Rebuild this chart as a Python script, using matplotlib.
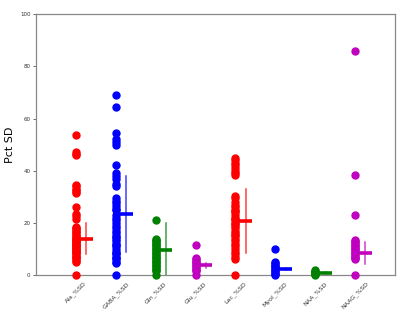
import matplotlib
matplotlib.use("Agg")
import matplotlib.pyplot as plt

categories = ["Ala_%SD", "GABA_%SD", "Gln_%SD", "Glu_%SD", "Lac_%SD", "MyoI_%SD", "NAA_%SD", "NAAG_%SD"]
colors = ["r", "b", "g", "m", "r", "b", "g", "m"]

ala = [53.5, 47, 46.5, 46, 34.5, 34, 33, 32.5, 32, 31.5, 26, 23.5, 22.5, 21.5, 18.5, 18, 17.5, 17,
       16.5, 16, 15.5, 15, 14.5, 14, 14, 13.5, 13, 13, 12.5, 12, 12, 11.5, 11, 11, 10.5, 10, 10, 9.5,
       9, 9, 8.5, 8, 7.5, 7, 6.5, 6, 5.5, 5, 0]
gaba = [69, 64.5, 54.5, 52, 51, 50, 42, 39, 38, 37, 35, 34, 29.5, 28.5, 27.5, 26.5, 25.5, 25, 23, 22,
        21, 20, 19, 18, 17, 16, 15, 14.5, 14, 13, 12, 11.5, 11, 10, 9, 8.5, 8, 7, 6.5, 6, 5, 4.5, 0]
gln = [21, 14, 13.5, 13, 12.5, 12, 11.5, 11, 10.5, 10, 9.5, 9, 8.5, 8, 7.5, 7, 6.5, 6, 5.5, 5, 4.5, 4,
       3.5, 3, 2.5, 2, 1.5, 0]
glu = [11.5, 6.5, 6, 5.5, 5, 4.5, 4, 3.5, 3, 2.5, 2, 1.5, 0]
lac = [45, 44, 43, 42, 41, 40, 39, 38.5, 30.5, 29.5, 28, 27, 26, 25, 24.5, 24, 23, 22, 21.5, 21, 20,
       19.5, 19, 18, 17, 16, 15.5, 15, 14, 13, 12, 11, 10, 9, 8, 7, 6, 0]
myoi = [10.2, 5, 4.5, 4, 3.5, 3, 2.5, 2, 1.5, 1, 0.5, 0]
naa = [2, 1.5, 1.2, 1, 0.8, 0.5, 0.3, 0]
naag = [86, 38.5, 23, 13.5, 13, 12.5, 12, 11.5, 11, 10.5, 10, 9.5, 9, 8.5, 8, 7.5, 7, 6.5, 6, 0]
series = [ala, gaba, gln, glu, lac, myoi, naa, naag]

means = [14.0, 23.3, 9.6, 3.7, 20.7, 2.3, 0.9, 8.5]
sds = [5.9, 14.6, 10.2, 1.0, 12.3, 0.5, 0.3, 4.3]

fig = plt.figure(figsize=(4.0, 3.13), dpi=100)
ax = fig.add_axes([0.09, 0.121, 0.8975, 0.834])

for i, (vals, c) in enumerate(zip(series, colors)):
    ax.plot([i] * len(vals), vals, "o", color=c, ms=5, mec=c, clip_on=False, zorder=3)
    ax.plot([i + 0.1, i + 0.42], [means[i], means[i]], "-", color=c, lw=2.6, solid_capstyle="butt", zorder=4)
    ax.plot([i + 0.26, i + 0.26], [means[i] - sds[i], means[i] + sds[i]], "-", color=c, lw=1.1,
            alpha=0.75, zorder=4)

ax.set_xlim(-1, 8)
ax.set_ylim(0, 100)
ax.set_xticks(range(len(categories)))
ax.set_xticklabels(categories, rotation=45, fontsize=4.5)
ax.set_yticks([0, 20, 40, 60, 80, 100])
ax.tick_params(axis="y", labelsize=4)
ax.tick_params(length=2.2, width=0.6, pad=1.8, colors="#555555", labelcolor="#333333")
for s in ax.spines.values():
    s.set_color("#888888")
    s.set_linewidth(0.9)
ax.set_ylabel("Pct SD", fontsize=8)
ax.yaxis.set_label_coords(-0.058, 0.5)

fig.savefig("out.png", dpi=100)
